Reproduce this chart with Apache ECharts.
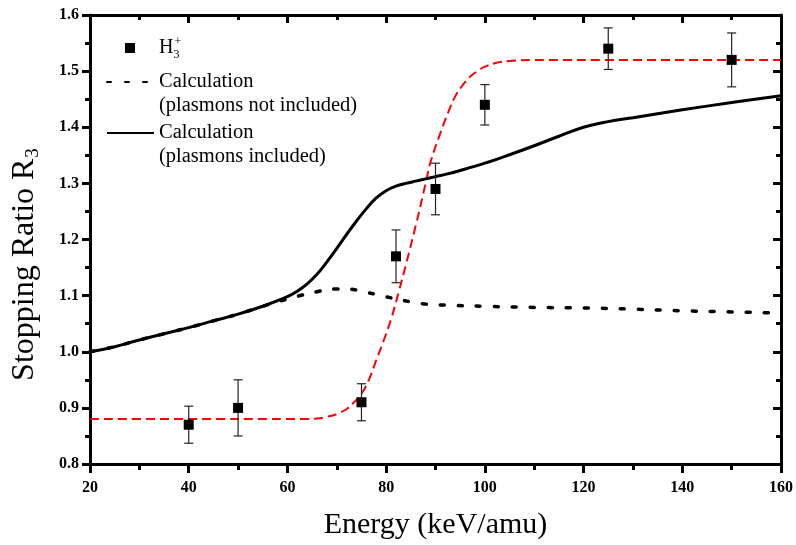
<!DOCTYPE html>
<html>
<head>
    <meta charset="UTF-8">
    <title>Stopping Ratio R3</title>
    <script src="https://cdn.jsdelivr.net/npm/echarts@6/dist/echarts.min.js"></script>
    <style>
        html, body { margin: 0; padding: 0; background: #fff; }
        #chart { width: 796px; height: 545px; }
    </style>
</head>
<body>
    <div id="chart"></div>
    <script>
        // measured H3+ points (energy, ratio, error half-width)
        const energies = [40, 50, 75, 82, 90, 100, 125, 150];
        const ratios = [0.87, 0.90, 0.91, 1.17, 1.29, 1.44, 1.54, 1.52];
        const errors = [0.033, 0.05, 0.033, 0.047, 0.046, 0.036, 0.037, 0.048];

        // calculation, plasmons included (solid)
        const inclX = [20, 25, 30, 35, 40, 45, 50, 55, 60, 62, 64, 66, 68, 70, 72, 74, 76, 78, 80, 82, 84, 86, 88, 90, 92, 95, 100, 105, 110, 115, 120, 125, 130, 140, 150, 160];
        const inclY = [1.0, 1.009, 1.021, 1.032, 1.043, 1.055, 1.067, 1.081, 1.098, 1.108, 1.121, 1.138, 1.160, 1.184, 1.209, 1.233, 1.255, 1.274, 1.287, 1.295, 1.300, 1.304, 1.308, 1.312, 1.316, 1.323, 1.336, 1.351, 1.367, 1.384, 1.400, 1.410, 1.417, 1.431, 1.444, 1.456];

        // calculation, plasmons not included (dotted)
        const notX = [20, 25, 30, 35, 40, 45, 50, 55, 58, 60, 63, 66, 68, 70, 72, 74, 76, 78, 80, 82, 85, 88, 92, 100, 110, 120, 130, 140, 150, 160];
        const notY = [1.0, 1.009, 1.021, 1.032, 1.043, 1.055, 1.067, 1.081, 1.089, 1.094, 1.101, 1.107, 1.110, 1.112, 1.112, 1.110, 1.106, 1.102, 1.098, 1.094, 1.089, 1.085, 1.083, 1.081, 1.079, 1.078, 1.076, 1.073, 1.071, 1.069];

        // red dashed fit
        const fitX = [20, 40, 60, 64, 66, 68, 70, 72, 73.5, 75, 76.5, 78, 79.5, 81, 82.5, 84, 86, 88, 89, 91, 92.5, 94, 95.5, 97, 98.5, 100, 102, 105, 110, 160];
        const fitY = [0.88, 0.88, 0.88, 0.880, 0.881, 0.884, 0.889, 0.898, 0.910, 0.925, 0.950, 0.985, 1.020, 1.058, 1.105, 1.155, 1.225, 1.300, 1.338, 1.390, 1.425, 1.455, 1.475, 1.490, 1.500, 1.508, 1.514, 1.518, 1.520, 1.520];

        const xTicks = [20, 160, 20];   // min, max, interval
        const yTicks = [0.8, 1.6, 0.1];

        const serif = 'Liberation Serif, Times New Roman, serif';
        const zip = (xs, ys) => xs.map((x, i) => [x, ys[i]]);

        const chart = echarts.init(document.getElementById('chart'));

        const frameAxis = {
            axisLine: { show: true, lineStyle: { color: '#000', width: 3 } },
            axisTick: { show: true, inside: true, length: 8, lineStyle: { color: '#000', width: 3 } },
            minorTick: { show: true, splitNumber: 2, length: 5, lineStyle: { color: '#000', width: 3 } },
            axisLabel: { show: false },
            splitLine: { show: false }
        };

        const option = {
            animation: false,
            grid: { left: 90, right: 14, top: 15, bottom: 77 },
            legend: [
                {
                    data: [{ name: 'H3+', icon: 'rect' }],
                    left: 125, top: 36, padding: 0,
                    itemWidth: 10, itemHeight: 10,
                    itemStyle: { opacity: 1 },
                    formatter: () => '{h|H}{sb|3}{sp|+}',
                    textStyle: {
                        fontFamily: serif, color: '#000', fontSize: 20,
                        rich: {
                            h: { fontFamily: serif, fontSize: 20, color: '#000', padding: [0, 0, 0, 19] },
                            sb: { fontFamily: serif, fontSize: 12, color: '#000', width: 1, padding: [14, 0, 0, 0] },
                            sp: { fontFamily: serif, fontSize: 12, color: '#000', padding: [0, 0, 12, 0] }
                        }
                    }
                },
                {
                    data: ['not included', 'included'],
                    orient: 'vertical',
                    left: 106, top: 46, padding: 0,
                    itemWidth: 47, itemHeight: 10, itemGap: -21,
                    itemStyle: { color: 'transparent', borderWidth: 0, opacity: 0 },
                    formatter: name => '\nCalculation\n(plasmons ' + name + ')',
                    textStyle: { fontFamily: serif, color: '#000', fontSize: 20.5, lineHeight: 24 }
                }
            ],
            xAxis: [
                {
                    type: 'value', position: 'bottom',
                    min: xTicks[0], max: xTicks[1], interval: xTicks[2],
                    name: 'Energy (keV/amu)', nameLocation: 'middle', nameGap: 46,
                    nameTextStyle: { fontFamily: serif, fontSize: 30, color: '#000' },
                    axisLine: { show: true, lineStyle: { color: '#000', width: 3 } },
                    axisTick: { show: true, inside: false, length: 9, lineStyle: { color: '#000', width: 3 } },
                    minorTick: { show: true, splitNumber: 2, length: 6, lineStyle: { color: '#000', width: 3 } },
                    axisLabel: { fontFamily: serif, fontWeight: 'bold', fontSize: 16, color: '#000', margin: 16 },
                    splitLine: { show: false }
                },
                Object.assign({}, frameAxis, {
                    type: 'value', position: 'top',
                    min: xTicks[0], max: xTicks[1], interval: xTicks[2]
                })
            ],
            yAxis: [
                {
                    type: 'value', position: 'left',
                    min: yTicks[0], max: yTicks[1], interval: yTicks[2],
                    name: '{a|Stopping Ratio R}{s|3}', nameLocation: 'middle', nameGap: 47,
                    nameTextStyle: {
                        fontFamily: serif, fontSize: 32, color: '#000',
                        padding: [0, 50, 0, 0],
                        rich: {
                            a: { fontFamily: serif, fontSize: 32, color: '#000' },
                            s: { fontFamily: serif, fontSize: 19, color: '#000', padding: [18, 0, 0, 1] }
                        }
                    },
                    axisLine: { show: true, lineStyle: { color: '#000', width: 3 } },
                    axisTick: { show: true, inside: false, length: 8, lineStyle: { color: '#000', width: 3 } },
                    minorTick: { show: true, splitNumber: 2, length: 5, lineStyle: { color: '#000', width: 3 } },
                    axisLabel: {
                        fontFamily: serif, fontWeight: 'bold', fontSize: 16, color: '#000', margin: 11,
                        formatter: v => v.toFixed(1)
                    },
                    splitLine: { show: false }
                },
                Object.assign({}, frameAxis, {
                    type: 'value', position: 'right',
                    min: yTicks[0], max: yTicks[1], interval: yTicks[2]
                })
            ],
            series: [
                {
                    name: 'fit', type: 'line', smooth: 0.4, symbol: 'none',
                    data: zip(fitX, fitY),
                    lineStyle: { color: '#ff0000', width: 2, type: [9, 5] },
                    z: 2
                },
                {
                    name: 'not included', type: 'line', smooth: 0.4, symbol: 'none',
                    data: zip(notX, notY),
                    color: '#000',
                    lineStyle: { color: '#000', width: 3.5, type: [4, 14], cap: 'round' },
                    z: 3
                },
                {
                    name: 'included', type: 'line', smooth: 0.4, symbol: 'none',
                    data: zip(inclX, inclY),
                    color: '#000',
                    lineStyle: { color: '#000', width: 3 },
                    z: 3
                },
                {
                    name: 'H3+', type: 'scatter', symbol: 'rect', symbolSize: 10,
                    data: zip(energies, ratios),
                    itemStyle: { color: '#000', opacity: 1 },
                    z: 5
                },
                {
                    name: 'errors', type: 'custom',
                    data: energies.map((e, i) => [e, ratios[i] - errors[i], ratios[i] + errors[i]]),
                    encode: { x: 0, y: [1, 2] },
                    renderItem: function (params, api) {
                        const hi = api.coord([api.value(0), api.value(2)]);
                        const lo = api.coord([api.value(0), api.value(1)]);
                        const w = 4.5;
                        const st = { stroke: '#222', lineWidth: 1.2 };
                        return {
                            type: 'group',
                            children: [
                                { type: 'line', shape: { x1: hi[0], y1: hi[1], x2: lo[0], y2: lo[1] }, style: st },
                                { type: 'line', shape: { x1: hi[0] - w, y1: hi[1], x2: hi[0] + w, y2: hi[1] }, style: st },
                                { type: 'line', shape: { x1: lo[0] - w, y1: lo[1], x2: lo[0] + w, y2: lo[1] }, style: st }
                            ]
                        };
                    },
                    z: 4
                }
            ]
        };

        chart.setOption(option);
    </script>
</body>
</html>
